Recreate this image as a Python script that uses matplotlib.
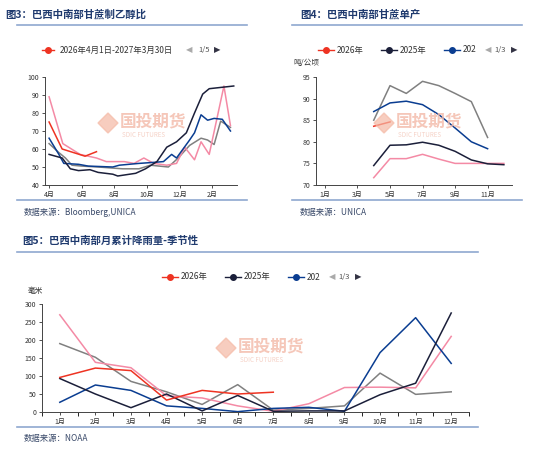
import matplotlib
matplotlib.use("Agg")
import matplotlib.pyplot as plt
from matplotlib.lines import Line2D
from matplotlib.patches import Polygon

plt.rcParams['font.family'] = ['Noto Sans CJK SC', 'DejaVu Sans']

RED, DARK, BLUE, PINK, GRAY = '#ee3322', '#1b1f3a', '#0a3d91', '#f48aa5', '#808080'
TITLE_C, RULE_C, SRC_C = '#1f3a6e', '#8fa8d0', '#3a4a6a'

# ---- Panel 1 data: ethanol ratio (x = months since Apr) ----
p1_ticks = [0, 2, 4, 6, 8, 10]
p1_labels = ['4月', '6月', '8月', '10月', '12月', '2月']
p1_red_x = [0, 0.8, 2.2, 2.9]
p1_red_y = [75, 60, 56, 58.5]
p1_dark_x = [0, 0.8, 1.3, 1.8, 2.5, 3.0, 3.9, 4.2, 5.3, 5.9, 6.6, 7.2, 7.8, 8.4, 8.9, 9.4, 9.8, 10.3, 11.3]
p1_dark_y = [57, 55, 49, 48, 48.5, 47, 46, 45, 46.5, 49, 53, 61, 64, 69, 80, 90.5, 93.5, 94, 95]
p1_blue_x = [0, 0.6, 0.9, 1.8, 2.4, 3.9, 4.3, 5.5, 6.3, 7.0, 7.5, 7.8, 8.2, 8.6, 8.9, 9.3, 9.7, 10.1, 10.6, 11.1]
p1_blue_y = [66, 57, 52, 51.5, 50.5, 50, 51, 52, 52.5, 53, 57, 55, 60, 65, 69, 79, 76, 77, 76.5, 70]
p1_pink_x = [0, 0.84, 1.9, 2.9, 3.5, 4.6, 5.2, 5.8, 6.4, 7.2, 7.8, 8.3, 8.9, 9.3, 9.8, 10.7, 11.1]
p1_pink_y = [89, 63, 57, 55, 53, 53, 52, 55, 52, 51, 52, 61, 54, 64, 57, 95, 73]
p1_gray_x = [0, 0.6, 1.0, 1.4, 2.0, 3.0, 4.5, 5.5, 6.2, 7.3, 7.9, 8.6, 9.3, 9.7, 10.1, 10.5, 11.1]
p1_gray_y = [63, 58, 55, 51, 50.5, 50, 49, 49, 51, 50, 55, 62, 66, 65, 62.5, 75.5, 72]

# ---- Panel 2 data: cane yield ----
p2_ticks = [1, 3, 5, 7, 9, 11]
p2_labels = ['1月', '3月', '5月', '7月', '9月', '11月']
p2_gray_x = [4, 5, 6, 7, 8, 9, 10, 11]
p2_gray_y = [85, 93, 91.2, 94, 93, 91.2, 89.3, 81]
p2_blue_x = [4, 5, 6, 7, 8, 9, 10, 11]
p2_blue_y = [87, 89, 89.4, 88.6, 86.3, 83.2, 80, 78.4]
p2_dark_x = [4, 5, 6, 7, 8, 9, 10, 11, 12]
p2_dark_y = [74.5, 79.2, 79.3, 79.9, 79.2, 77.8, 75.8, 74.9, 74.7]
p2_pink_x = [4, 5, 6, 7, 8, 9, 10, 11, 12]
p2_pink_y = [71.7, 76.1, 76.1, 77.1, 76, 75, 75, 75, 75]
p2_red_x = [4, 5]
p2_red_y = [83.6, 84.6]

# ---- Panel 3 data: monthly rainfall ----
months = list(range(1, 13))
p3_labels = [f'{m}月' for m in months]
p3_red = [96, 122, 115, 33, 60, 50, 55]
p3_dark = [93, 50, 12, 50, 3, 46, 2, 3, 3, 48, 80, 275]
p3_blue = [27, 75, 60, 17, 10, 1, 10, 13, 2, 165, 262, 135]
p3_pink = [270, 138, 123, 45, 39, 17, 2, 23, 68, 69, 67, 210]
p3_gray = [190, 152, 85, 56, 21, 76, 5, 10, 17, 108, 49, 56]

W, H = 550, 455
fig = plt.figure(figsize=(5.5, 4.55), dpi=100)

def ax_px(l, t, r, b):
    return fig.add_axes([l / W, 1 - b / H, (r - l) / W, (b - t) / H])

def rule(x0, x1, y):
    fig.add_artist(Line2D([x0 / W, x1 / W], [1 - y / H, 1 - y / H], color=RULE_C, lw=1.2))

def txt(x, y, s, **kw):
    fig.text(x / W, 1 - y / H, s, **kw)

def style(ax):
    for s in ['top', 'right']:
        ax.spines[s].set_visible(False)
    for s in ['left', 'bottom']:
        ax.spines[s].set_color('#444444')
        ax.spines[s].set_linewidth(0.7)
    ax.tick_params(labelsize=5, length=2, width=0.6, colors='#333333', pad=2)

def watermark(cx, cy):
    txt(cx, cy - 2, '国投期货', fontsize=12, color='#f3b9a8', ha='left', va='center', fontweight='bold', alpha=0.8)
    txt(cx + 2, cy + 12, 'SDIC FUTURES', fontsize=4.5, color='#f3c6b8', ha='left', va='center', alpha=0.8)
    fig.add_artist(Polygon([((cx - 12) / W, 1 - (cy - 10) / H), ((cx - 2) / W, 1 - cy / H),
                            ((cx - 12) / W, 1 - (cy + 10) / H), ((cx - 22) / W, 1 - cy / H)],
                           closed=True, color='#f5b9a5', alpha=0.7, transform=fig.transFigure))

def legend_row(y, x0, items, nav):
    x = x0
    for lab, c in items:
        fig.add_artist(Line2D([x / W, (x + 16) / W], [1 - y / H] * 2, color=c, lw=1, transform=fig.transFigure))
        fig.add_artist(Line2D([(x + 8) / W], [1 - y / H], color=c, marker='o', ms=4, transform=fig.transFigure))
        txt(x + 19, y, lab, fontsize=6, color='#333333', va='center')
        x += 19 + 5.2 * len(lab) + (8 if '年' in lab else 0) + 10
    txt(x - 4, y, '◀', fontsize=6, color='#aaaaaa', va='center', family='DejaVu Sans')
    txt(x + 6, y, nav, fontsize=5.5, color='#555555', va='center')
    txt(x + 22, y, '▶', fontsize=6, color='#334', va='center', family='DejaVu Sans')

# ===== Panel 1 =====
txt(5, 14, '图3：巴西中南部甘蔗制乙醇比', fontsize=7.5, fontweight='bold', color=TITLE_C, va='center')
rule(17, 247, 25)
rule(17, 247, 200)
txt(24, 212, '数据来源：Bloomberg,UNICA', fontsize=6, style='italic', color=SRC_C, va='center')
fig.add_artist(Line2D([42 / W, 54 / W], [1 - 50 / H] * 2, color=RED, lw=1, transform=fig.transFigure))
fig.add_artist(Line2D([48 / W], [1 - 50 / H], color=RED, marker='o', ms=4, transform=fig.transFigure))
txt(60, 50, '2026年4月1日-2027年3月30日', fontsize=6, color='#333333', va='center')
txt(186, 50, '◀', fontsize=6, color='#aaaaaa', va='center', family='DejaVu Sans')
txt(198, 50, '1/5', fontsize=5.5, color='#555555', va='center')
txt(214, 50, '▶', fontsize=6, color='#334', va='center', family='DejaVu Sans')
ax1 = ax_px(45, 77, 237, 185)
for xs, ys, c in [(p1_gray_x, p1_gray_y, GRAY), (p1_pink_x, p1_pink_y, PINK), (p1_blue_x, p1_blue_y, BLUE),
                  (p1_dark_x, p1_dark_y, DARK), (p1_red_x, p1_red_y, RED)]:
    ax1.plot(xs, ys, color=c, lw=1.1)
ax1.set_xlim(-0.25, 11.5)
ax1.set_ylim(40, 100)
ax1.set_yticks([40, 50, 60, 70, 80, 90, 100])
ax1.set_xticks(p1_ticks)
ax1.set_xticklabels(p1_labels)
style(ax1)
watermark(120, 123)

# ===== Panel 2 =====
txt(300, 14, '图4：巴西中南部甘蔗单产', fontsize=7.5, fontweight='bold', color=TITLE_C, va='center')
rule(292, 522, 25)
rule(292, 522, 200)
txt(300, 212, '数据来源：UNICA', fontsize=6, style='italic', color=SRC_C, va='center')
legend_row(50, 318, [('2026年', RED), ('2025年', DARK), ('202', BLUE)], '1/3')
txt(293, 63, '吨/公顷', fontsize=5.5, color='#333333', va='center')
ax2 = ax_px(316, 77, 512, 185)
for xs, ys, c in [(p2_gray_x, p2_gray_y, GRAY), (p2_pink_x, p2_pink_y, PINK), (p2_blue_x, p2_blue_y, BLUE),
                  (p2_dark_x, p2_dark_y, DARK), (p2_red_x, p2_red_y, RED)]:
    ax2.plot(xs, ys, color=c, lw=1.1)
ax2.set_xlim(0.45, 12.5)
ax2.set_ylim(70, 95)
ax2.set_yticks([70, 75, 80, 85, 90, 95])
ax2.set_xticks(p2_ticks)
ax2.set_xticklabels(p2_labels)
style(ax2)
watermark(396, 123)

# ===== Panel 3 =====
txt(22, 241, '图5：巴西中南部月累计降雨量-季节性', fontsize=7.5, fontweight='bold', color=TITLE_C, va='center')
rule(17, 478, 252)
rule(17, 478, 427)
txt(24, 438, '数据来源：NOAA', fontsize=6, style='italic', color=SRC_C, va='center')
legend_row(277, 162, [('2026年', RED), ('2025年', DARK), ('202', BLUE)], '1/3')
txt(28, 291, '毫米', fontsize=5.5, color='#333333', va='center')
ax3 = ax_px(42, 304, 469, 412)
ax3.plot(months, p3_gray, color=GRAY, lw=1.1)
ax3.plot(months, p3_pink, color=PINK, lw=1.1)
ax3.plot(months, p3_blue, color=BLUE, lw=1.1)
ax3.plot(months, p3_dark, color=DARK, lw=1.1)
ax3.plot(months[:len(p3_red)], p3_red, color=RED, lw=1.1)
ax3.set_xlim(0.5, 12.5)
ax3.set_ylim(0, 300)
ax3.set_yticks([0, 50, 100, 150, 200, 250, 300])
ax3.set_xticks(months)
ax3.set_xticklabels(p3_labels)
ax3.set_xticks([m + 0.5 for m in range(0, 13)], minor=True)
ax3.tick_params(axis='x', which='major', length=0)
style(ax3)
ax3.tick_params(axis='x', which='minor', length=3, width=0.6)
watermark(238, 348)

fig.savefig('out.png', dpi=100, facecolor='white')
